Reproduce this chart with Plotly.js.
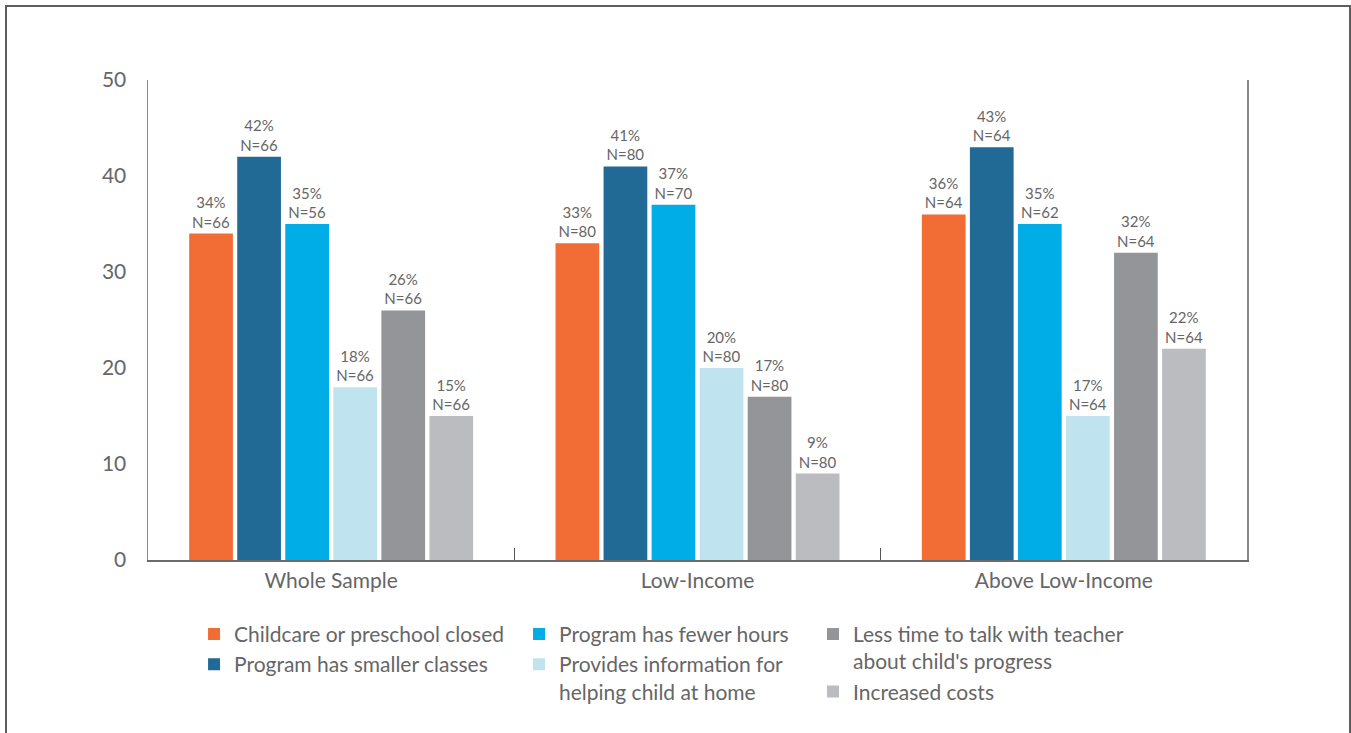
<!DOCTYPE html>
<html>
<head>
<meta charset="utf-8">
<script src="https://cdn.plot.ly/plotly-3.0.1.min.js"></script>
<style>
  html, body { margin: 0; padding: 0; background: #fff; overflow: hidden; }
  #frame { position: absolute; left: 5px; top: 5px; width: 1342px; height: 760px; border: 2px solid #5e5e5e; pointer-events: none; }
  #chart { position: absolute; left: 0; top: 0; width: 1351px; height: 733px; }
</style>
</head>
<body>
<div id="chart"></div>
<div id="frame"></div>
<script>
// ---- data ----
const categories = ["Whole Sample", "Low-Income", "Above Low-Income"];
const seriesNames = [
  "Childcare or preschool closed",
  "Program has smaller classes",
  "Program has fewer hours",
  "Provides information for<br>helping child at home",
  "Less time to talk with teacher<br>about child's progress",
  "Increased costs"
];
const childcareClosed   = [34, 33, 36];
const smallerClasses    = [42, 41, 43];
const fewerHours        = [35, 37, 35];
const providesInfo      = [18, 20, 15];
const lessTimeTeacher   = [26, 17, 32];
const increasedCosts    = [15, 9, 22];

const pctLabels = [
  ["34%", "33%", "36%"],
  ["42%", "41%", "43%"],
  ["35%", "37%", "35%"],
  ["18%", "20%", "17%"],
  ["26%", "17%", "32%"],
  ["15%", "9%", "22%"]
];
const nLabels = [
  ["N=66", "N=80", "N=64"],
  ["N=66", "N=80", "N=64"],
  ["N=56", "N=70", "N=62"],
  ["N=66", "N=80", "N=64"],
  ["N=66", "N=80", "N=64"],
  ["N=66", "N=80", "N=64"]
];
const yTicks = [0, 10, 20, 30, 40, 50];

// ---- styles ----
const colors = ["#F26C35", "#216A96", "#00ADE6", "#BFE4EF", "#939598", "#BBBCC0"];
const legendIds = ["legend", "legend", "legend2", "legend2", "legend3", "legend3"];
const seriesValues = [childcareClosed, smallerClasses, fewerHours, providesInfo, lessTimeTeacher, increasedCosts];

const FONT = "Lato, 'Open Sans', sans-serif";
const GREY = "#666666";

const traces = seriesValues.map((vals, i) => ({
  type: "bar",
  name: seriesNames[i],
  x: categories,
  y: vals,
  text: vals.map((v, j) => pctLabels[i][j] + "<br>" + nLabels[i][j]),
  textposition: "outside",
  textfont: { family: FONT, size: 15, color: GREY },
  cliponaxis: false,
  marker: { color: colors[i], line: { width: 0 } },
  legend: legendIds[i],
  hoverinfo: "x+y+name"
}));

const legendBase = {
  orientation: "v",
  yanchor: "top",
  xanchor: "left",
  y: -0.112,
  valign: "top",
  font: { family: FONT, size: 21, color: GREY },
  bgcolor: "rgba(0,0,0,0)",
  itemwidth: 30,
  tracegroupgap: 0,
  traceorder: "normal"
};

const layout = {
  width: 1351,
  height: 733,
  margin: { l: 148, r: 104, t: 80, b: 173 },
  paper_bgcolor: "#ffffff",
  plot_bgcolor: "#ffffff",
  font: { family: FONT, color: GREY },
  barmode: "group",
  bargap: 0.213,
  bargroupgap: 0.09,
  xaxis: {
    type: "category",
    tickson: "boundaries",
    ticks: "inside",
    ticklen: 12,
    tickwidth: 1.2,
    tickcolor: "#555555",
    showline: true,
    linecolor: "#6a6a6a",
    linewidth: 1.5,
    showgrid: false,
    tickfont: { family: FONT, size: 21, color: GREY },
    ticklabelstandoff: 1,
    fixedrange: true
  },
  yaxis: {
    range: [0, 50],
    tickvals: yTicks,
    ticktext: yTicks.map(String),
    showgrid: false,
    zeroline: false,
    showline: true,
    mirror: true,
    linecolor: "#8a8a8a",
    linewidth: 1.5,
    ticks: "",
    tickfont: { family: FONT, size: 21, color: GREY },
    ticklabelstandoff: 16,
    fixedrange: true
  },
  legend:  Object.assign({}, legendBase, { x: 0.0419 }),
  legend2: Object.assign({}, legendBase, { x: 0.3376 }),
  legend3: Object.assign({}, legendBase, { x: 0.6051 }),
  showlegend: true
};

Plotly.newPlot("chart", traces, layout, { displayModeBar: false, staticPlot: true });
</script>
</body>
</html>
